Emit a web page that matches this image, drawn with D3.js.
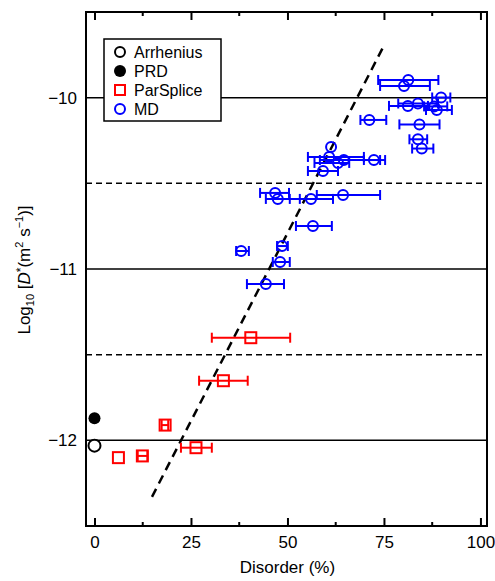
<!DOCTYPE html>
<html>
<head>
<meta charset="utf-8">
<script src="https://cdn.jsdelivr.net/npm/d3@7"></script>
<style>
  body { margin: 0; background: #fff; }
  svg text { font-family: "Liberation Sans", Arial, sans-serif; fill: #000; }
</style>
</head>
<body>
<div id="chart"></div>
<script>
// disorder (%) and log10 D* values
const mdX    = [81.3, 80.2, 89.8, 81.2, 83.8, 88.0, 88.7, 71.2, 84.2, 83.8, 84.8, 61.3, 60.8, 64.6, 72.4, 63.1, 59.2, 46.8, 47.5, 56.1, 64.4, 56.6, 48.6, 38.0, 48.1, 44.4];
const mdY    = [-9.897, -9.932, -9.999, -10.048, -10.034, -10.051, -10.072, -10.130, -10.156, -10.243, -10.297, -10.288, -10.346, -10.364, -10.364, -10.381, -10.428, -10.556, -10.591, -10.591, -10.568, -10.749, -10.866, -10.895, -10.959, -11.088];
const mdLo   = [73.5, 74.0, 87.5, 76.3, 78.7, 85.4, 85.9, 68.9, 79.0, 81.6, 82.3, 61.3, 55.3, 58.4, 69.8, 57.0, 55.3, 42.9, 44.4, 50.6, 57.6, 52.2, 47.3, 36.7, 46.2, 39.5];
const mdHi   = [89.1, 86.9, 92.2, 86.4, 89.0, 91.4, 92.6, 75.6, 89.4, 86.2, 87.8, 61.3, 69.8, 74.0, 75.3, 66.0, 63.1, 50.4, 53.2, 61.8, 74.0, 61.5, 50.1, 40.0, 50.6, 49.1];

const psX  = [40.5, 33.4, 18.3, 26.3, 6.2, 12.4];
const psY  = [-11.401, -11.652, -11.911, -12.043, -12.101, -12.091];
const psLo = [30.4, 27.1, 17.4, 22.4, 6.2, 11.2];
const psHi = [50.7, 39.7, 19.1, 30.4, 6.2, 13.7];

const prdX = [0], prdY = [-11.871];
const arrX = [0], arrY = [-12.031];

const fitX = [14.9, 74.9];
const fitY = [-12.33, -9.70];

const xTicks = [0, 25, 50, 75, 100];
const xMinor = [12.5, 37.5, 62.5, 87.5];
const yTicks = [-12, -11, -10];
const ySolid = [-12, -11, -10];
const yDash  = [-11.5, -10.5];

const legendNames = ["Arrhenius", "PRD", "ParSplice", "MD"];

const svg = d3.select("#chart").append("svg")
    .attr("width", 495)
    .attr("height", 581);

const x = d3.scaleLinear().domain([-2.2, 101.7]).range([86, 487]);
const y = d3.scaleLinear().domain([-12.5, -9.5]).range([526, 12]);

// reference lines
svg.selectAll(".hsolid").data(ySolid).enter().append("line")
    .attr("x1", x.range()[0]).attr("x2", x.range()[1])
    .attr("y1", d => y(d)).attr("y2", d => y(d))
    .attr("stroke", "#000").attr("stroke-width", 1.5);

svg.selectAll(".hdash").data(yDash).enter().append("line")
    .attr("x1", x.range()[0]).attr("x2", x.range()[1])
    .attr("y1", d => y(d)).attr("y2", d => y(d))
    .attr("stroke", "#000").attr("stroke-width", 1.5)
    .attr("stroke-dasharray", "6,4");

// fit line
svg.append("line")
    .attr("x1", x(fitX[0])).attr("y1", y(fitY[0]))
    .attr("x2", x(fitX[1])).attr("y2", y(fitY[1]))
    .attr("stroke", "#000").attr("stroke-width", 2.5)
    .attr("stroke-dasharray", "9,6");

// error bars
function errBars(xs, ys, lo, hi, color) {
    const g = svg.append("g").attr("stroke", color).attr("stroke-width", 2).attr("fill", "none");
    xs.forEach((d, i) => {
        if (hi[i] - lo[i] < 0.01) return;
        const yy = y(ys[i]);
        g.append("line").attr("x1", x(lo[i])).attr("x2", x(hi[i])).attr("y1", yy).attr("y2", yy);
        g.append("line").attr("x1", x(lo[i])).attr("x2", x(lo[i])).attr("y1", yy - 5).attr("y2", yy + 5);
        g.append("line").attr("x1", x(hi[i])).attr("x2", x(hi[i])).attr("y1", yy - 5).attr("y2", yy + 5);
    });
}
errBars(mdX, mdY, mdLo, mdHi, "#0000ff");
errBars(psX, psY, psLo, psHi, "#ff0000");

// MD circles
svg.append("g").selectAll("circle").data(mdX).enter().append("circle")
    .attr("cx", d => x(d)).attr("cy", (d, i) => y(mdY[i])).attr("r", 5)
    .attr("fill", "none").attr("stroke", "#0000ff").attr("stroke-width", 2);

// ParSplice squares
svg.append("g").selectAll("rect").data(psX).enter().append("rect")
    .attr("x", d => x(d) - 5.5).attr("y", (d, i) => y(psY[i]) - 5.5)
    .attr("width", 11).attr("height", 11)
    .attr("fill", "none").attr("stroke", "#ff0000").attr("stroke-width", 2);

// PRD and Arrhenius
svg.append("g").selectAll("circle").data(prdX).enter().append("circle")
    .attr("cx", d => x(d)).attr("cy", (d, i) => y(prdY[i])).attr("r", 6)
    .attr("fill", "#000");
svg.append("g").selectAll("circle").data(arrX).enter().append("circle")
    .attr("cx", d => x(d)).attr("cy", (d, i) => y(arrY[i])).attr("r", 6)
    .attr("fill", "#fff").attr("stroke", "#000").attr("stroke-width", 2);

// axes
const xAxis = svg.append("g")
    .attr("transform", `translate(0,${y.range()[0]})`)
    .call(d3.axisBottom(x).tickValues(xTicks).tickSizeInner(-8).tickSizeOuter(0).tickPadding(10));
xAxis.select(".domain").remove();
xAxis.selectAll("line").attr("stroke-width", 2);
xAxis.selectAll("text").attr("font-size", 17);

const xAxisTop = svg.append("g")
    .attr("transform", `translate(0,${y.range()[1]})`)
    .call(d3.axisTop(x).tickValues(xTicks).tickSizeInner(-8).tickSizeOuter(0).tickFormat(""));
xAxisTop.select(".domain").remove();
xAxisTop.selectAll("line").attr("stroke-width", 2);

svg.append("g").selectAll("line").data(xMinor).enter().append("line")
    .attr("x1", d => x(d)).attr("x2", d => x(d))
    .attr("y1", y.range()[0]).attr("y2", y.range()[0] - 4)
    .attr("stroke", "#000").attr("stroke-width", 2);
svg.append("g").selectAll("line").data(xMinor).enter().append("line")
    .attr("x1", d => x(d)).attr("x2", d => x(d))
    .attr("y1", y.range()[1]).attr("y2", y.range()[1] + 4)
    .attr("stroke", "#000").attr("stroke-width", 2);

const yAxis = svg.append("g")
    .attr("transform", `translate(${x.range()[0]},0)`)
    .call(d3.axisLeft(y).tickValues(yTicks).tickSize(0).tickPadding(9).tickFormat(d => "\u2212" + Math.abs(d)));
yAxis.select(".domain").remove();
yAxis.selectAll("text").attr("font-size", 17);

// frame
svg.append("rect")
    .attr("x", x.range()[0]).attr("y", y.range()[1])
    .attr("width", x.range()[1] - x.range()[0])
    .attr("height", y.range()[0] - y.range()[1])
    .attr("fill", "none").attr("stroke", "#000").attr("stroke-width", 2);

// axis titles
svg.append("text")
    .attr("x", x(50)).attr("y", 573)
    .attr("text-anchor", "middle").attr("font-size", 17)
    .text("Disorder (%)");

const yl = svg.append("text")
    .attr("transform", "translate(30,270) rotate(-90)")
    .attr("text-anchor", "middle").attr("font-size", 17);
yl.append("tspan").text("Log");
yl.append("tspan").attr("font-size", 11).attr("dy", 4).text("10");
yl.append("tspan").attr("dy", -4).text(" [");
yl.append("tspan").attr("font-style", "italic").text("D");
yl.append("tspan").attr("font-size", 12).attr("dy", -5).text("*");
yl.append("tspan").attr("dy", 5).text("(m");
yl.append("tspan").attr("font-size", 11).attr("dy", -7).text("2");
yl.append("tspan").attr("dy", 7).text(" s");
yl.append("tspan").attr("font-size", 11).attr("dy", -7).text("\u22121");
yl.append("tspan").attr("dy", 7).text(")]");

// legend
const legend = svg.append("g");
legend.append("rect")
    .attr("x", 104).attr("y", 39).attr("width", 117).attr("height", 82)
    .attr("fill", "#fff").attr("stroke", "#000").attr("stroke-width", 1.5);
const legY = [52, 71, 90, 109];
legendNames.forEach((name, i) => {
    const cy = legY[i];
    if (i === 0) {
        legend.append("circle").attr("cx", 120).attr("cy", cy).attr("r", 5)
            .attr("fill", "#fff").attr("stroke", "#000").attr("stroke-width", 2);
    } else if (i === 1) {
        legend.append("circle").attr("cx", 120).attr("cy", cy).attr("r", 6).attr("fill", "#000");
    } else if (i === 2) {
        legend.append("rect").attr("x", 115).attr("y", cy - 5).attr("width", 10).attr("height", 10)
            .attr("fill", "none").attr("stroke", "#ff0000").attr("stroke-width", 2);
    } else {
        legend.append("circle").attr("cx", 120).attr("cy", cy).attr("r", 5)
            .attr("fill", "none").attr("stroke", "#0000ff").attr("stroke-width", 2);
    }
    legend.append("text")
        .attr("x", 134).attr("y", cy + 6)
        .attr("font-size", 16)
        .text(name);
});
</script>
</body>
</html>
